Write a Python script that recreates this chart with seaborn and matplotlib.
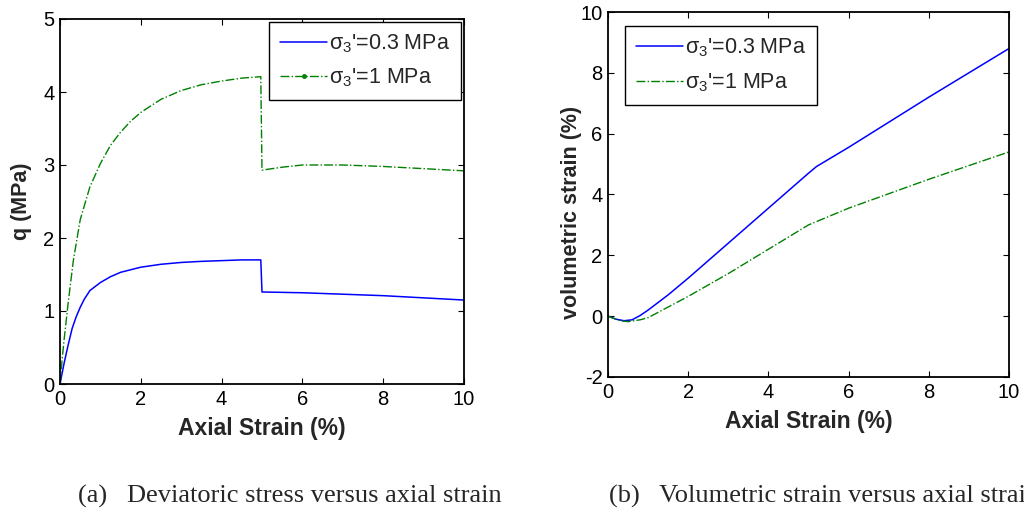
import numpy as np
import pandas as pd
import seaborn as sns
import matplotlib
matplotlib.use("Agg")
import matplotlib.pyplot as plt
from matplotlib.lines import Line2D

sns.set_style("ticks")
plt.rcParams['font.family'] = ['Liberation Sans', 'DejaVu Sans']
plt.rcParams['mathtext.fontset'] = 'custom'
plt.rcParams['mathtext.rm'] = 'Liberation Sans'
plt.rcParams['mathtext.it'] = 'Liberation Sans'
plt.rcParams['axes.unicode_minus'] = False

# ---- data: (a) deviatoric stress q (MPa) vs axial strain (%)
q_low_x = [0, 0.1, 0.2, 0.3, 0.4, 0.5, 0.6, 0.74, 1.0, 1.25, 1.5, 2.0, 2.5, 3.0, 3.5, 4.0, 4.5, 4.97, 5.0, 5.05, 6.0, 7.0, 8.0, 9.0, 10.0]
q_low_y = [0, 0.28, 0.53, 0.76, 0.92, 1.05, 1.16, 1.28, 1.39, 1.47, 1.53, 1.60, 1.64, 1.665, 1.68, 1.69, 1.70, 1.70, 1.26, 1.26, 1.25, 1.23, 1.21, 1.18, 1.15]
q_high_x = [0, 0.05, 0.1, 0.2, 0.33, 0.5, 0.74, 1.0, 1.25, 1.5, 1.75, 2.0, 2.5, 3.0, 3.5, 4.0, 4.5, 4.97, 5.0, 5.5, 6.0, 7.0, 8.0, 9.0, 10.0]
q_high_y = [0, 0.32, 0.6, 1.1, 1.69, 2.25, 2.7, 3.02, 3.27, 3.45, 3.6, 3.72, 3.9, 4.02, 4.1, 4.15, 4.19, 4.21, 2.93, 2.97, 3.0, 3.0, 2.98, 2.95, 2.92]

# ---- data: (b) volumetric strain (%) vs axial strain (%)
v_low_x = [0, 0.2, 0.4, 0.6, 0.8, 1.0, 1.5, 2.0, 3.0, 4.0, 5.0, 5.2, 6.0, 8.0, 10.0]
v_low_y = [0, -0.1, -0.15, -0.12, 0.02, 0.2, 0.7, 1.25, 2.4, 3.55, 4.7, 4.92, 5.55, 7.2, 8.8]
v_high_x = [0, 0.3, 0.5, 0.8, 1.0, 1.5, 2.0, 3.0, 4.0, 5.0, 6.0, 8.0, 10.0]
v_high_y = [0, -0.15, -0.18, -0.12, -0.05, 0.3, 0.65, 1.4, 2.2, 3.0, 3.55, 4.5, 5.4]

labels = ["σ$_3$'=0.3 MPa", "σ$_3$'=1 MPa"]
captions = ["(a)   Deviatoric stress versus axial strain", "(b)   Volumetric strain versus axial strain"]
blue = "#0000ff"
green = "#008000"

fig = plt.figure(figsize=(10.24, 5.16), dpi=100)
ax1 = fig.add_axes([60/1024, 1-384/516, 404/1024, 365/516])
ax2 = fig.add_axes([608/1024, 1-377/516, 401/1024, 365/516])

def style(ax):
    for s in ax.spines.values():
        s.set_visible(True)
        s.set_color('black')
        s.set_linewidth(1.3)
    ax.tick_params(direction='in', length=4, width=0.8, labelsize=14.5, top=True, right=True, colors='black', pad=4)
    ax.set_xlim(0, 10)

leg_kw = dict(fontsize=15.5, frameon=True, fancybox=False, edgecolor='black', framealpha=1,
              handlelength=2.2, handletextpad=0.1, borderpad=0.5, labelspacing=0.55)

df1 = pd.DataFrame({'x': q_low_x, 'y': q_low_y})
df2 = pd.DataFrame({'x': q_high_x, 'y': q_high_y})
sns.lineplot(data=df1, x='x', y='y', ax=ax1, color=blue, lw=1.1, sort=False, estimator=None)
sns.lineplot(data=df2, x='x', y='y', ax=ax1, color=green, lw=1.0, ls='-.', sort=False, estimator=None)
style(ax1)
ax1.set_ylim(0, 5)
ax1.set_xticks([0, 2, 4, 6, 8, 10])
ax1.set_yticks([0, 1, 2, 3, 4, 5])
ax1.set_xlabel("Axial Strain (%)", fontsize=16.5, fontweight='bold', labelpad=6)
ax1.set_ylabel("q (MPa)", fontsize=15.5, fontweight='bold')
ax1.yaxis.set_label_coords(-0.069, 0.5)
h1 = [Line2D([], [], color=blue, lw=1.1),
      Line2D([], [], color=green, lw=1.0, ls='-.', marker='.', markersize=5)]
leg1 = ax1.legend(h1, labels, loc='upper right', borderaxespad=0.12, **leg_kw)
leg1.get_frame().set_linewidth(1.0)

df3 = pd.DataFrame({'x': v_low_x, 'y': v_low_y})
df4 = pd.DataFrame({'x': v_high_x, 'y': v_high_y})
sns.lineplot(data=df3, x='x', y='y', ax=ax2, color=blue, lw=1.1, sort=False, estimator=None)
sns.lineplot(data=df4, x='x', y='y', ax=ax2, color=green, lw=1.0, ls='-.', sort=False, estimator=None)
style(ax2)
ax2.set_ylim(-2, 10)
ax2.set_xticks([0, 2, 4, 6, 8, 10])
ax2.set_yticks([-2, 0, 2, 4, 6, 8, 10])
ax2.set_xlabel("Axial Strain (%)", fontsize=16.5, fontweight='bold', labelpad=6)
ax2.set_ylabel("volumetric strain (%)", fontsize=15.5, fontweight='bold')
ax2.yaxis.set_label_coords(-0.066, 0.45)
h2 = [Line2D([], [], color=blue, lw=1.1), Line2D([], [], color=green, lw=1.0, ls='-.')]
leg2 = ax2.legend(h2, labels, loc='upper left', bbox_to_anchor=(17/401, 1-14/365), borderaxespad=0, **leg_kw)
leg2.get_frame().set_linewidth(1.0)

fig.text(78/1024, 1-496/516, captions[0], fontsize=19, family='Liberation Serif', va='center', ha='left')
fig.text(609/1024, 1-496/516, captions[1], fontsize=19, family='Liberation Serif', va='center', ha='left')

fig.savefig("out.png", dpi=100)
